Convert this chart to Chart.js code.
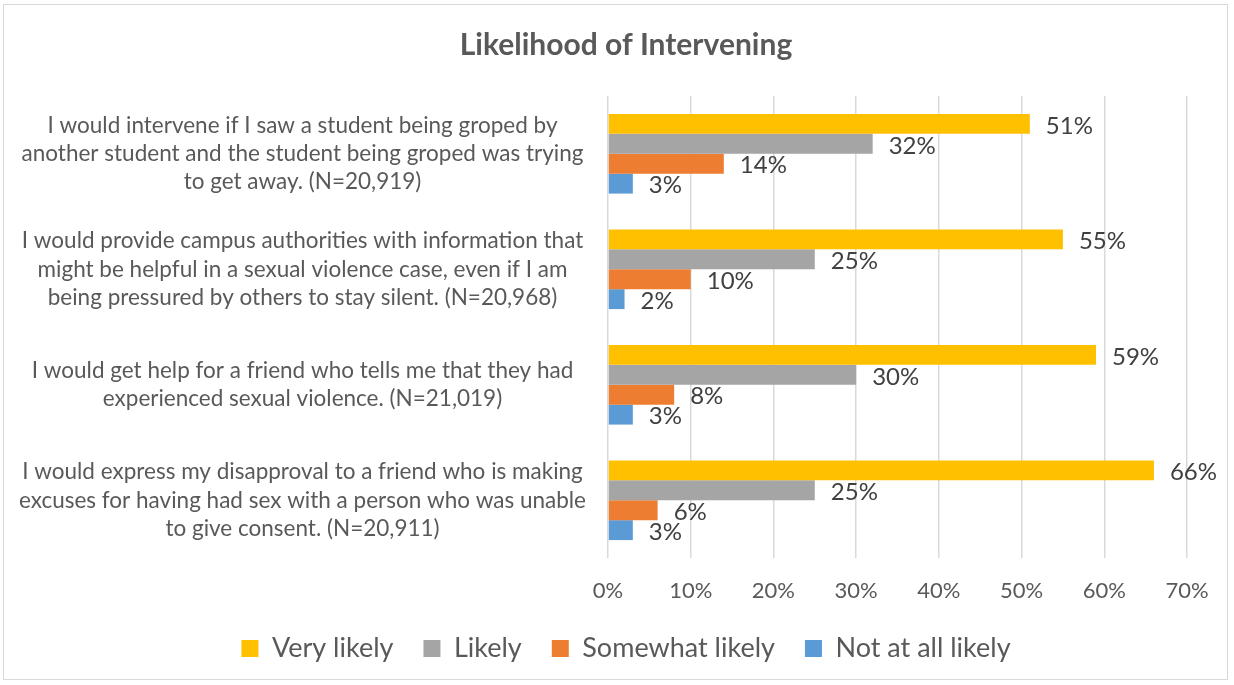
<!DOCTYPE html>
<html>
<head>
<meta charset="utf-8">
<script src="https://cdn.jsdelivr.net/npm/chart.js@4"></script>
<style>
  html, body { margin: 0; padding: 0; background: #fff; }
  #wrap { position: relative; width: 1234px; height: 685px; }
  #frame { position: absolute; left: 3px; top: 4px; width: 1225px; height: 676px; border: 1px solid #D9D9D9; box-sizing: border-box; pointer-events: none; }
  canvas { position: absolute; left: 0; top: 0; }
</style>
</head>
<body>
<div id="wrap">
  <canvas id="chart" width="1234" height="685"></canvas>
  <div id="frame"></div>
</div>
<script>
// Kategorien (mehrzeilig wie im Original)
const categories = [
  ['I would intervene if I saw a student being groped by', 'another student and the student being groped was trying', 'to get away. (N=20,919)'],
  ['I would provide campus authorities with information that', 'might be helpful in a sexual violence case, even if I am', 'being pressured by others to stay silent. (N=20,968)'],
  ['I would get help for a friend who tells me that they had', 'experienced sexual violence. (N=21,019)'],
  ['I would express my disapproval to a friend who is making', 'excuses for having had sex with a person who was unable', 'to give consent. (N=20,911)']
];

const seriesNames = ['Very likely', 'Likely', 'Somewhat likely', 'Not at all likely'];
const veryLikely = [51, 55, 59, 66];
const likely = [32, 25, 30, 25];
const somewhatLikely = [14, 10, 8, 6];
const notAtAllLikely = [3, 2, 3, 3];
const xTicks = [0, 10, 20, 30, 40, 50, 60, 70];

const colors = ['#FFC000', '#A5A5A5', '#ED7D31', '#5B9BD5'];
const FONT = "Lato, 'Open Sans', sans-serif";

// einfache Datenbeschriftung am Balkenende
const barLabels = {
  id: 'barLabels',
  afterDatasetsDraw(chart) {
    const ctx = chart.ctx;
    ctx.save();
    ctx.font = '24px ' + FONT;
    ctx.fillStyle = '#404040';
    ctx.textAlign = 'left';
    ctx.textBaseline = 'middle';
    chart.data.datasets.forEach((ds, i) => {
      const meta = chart.getDatasetMeta(i);
      meta.data.forEach((bar, j) => {
        ctx.fillText(ds.data[j] + '%', bar.x + 16, bar.y + 2);
      });
    });
    ctx.restore();
  }
};

const allSeries = [veryLikely, likely, somewhatLikely, notAtAllLikely];

new Chart(document.getElementById('chart'), {
  type: 'bar',
  data: {
    labels: categories,
    datasets: allSeries.map((vals, i) => ({
      label: seriesNames[i],
      data: vals,
      backgroundColor: colors[i],
      borderWidth: 0,
      barPercentage: 1.0,
      categoryPercentage: 0.69
    }))
  },
  options: {
    indexAxis: 'y',
    responsive: false,
    animation: false,
    layout: { padding: { top: 27, right: 0, bottom: 13, left: 18 } },
    plugins: {
      tooltip: { enabled: false },
      title: {
        display: true,
        text: 'Likelihood of Intervening',
        color: '#595959',
        font: { family: FONT, size: 30, weight: 'bold' },
        padding: { top: 0, bottom: 33 }
      },
      legend: {
        position: 'bottom',
        labels: {
          color: '#595959',
          font: { family: FONT, size: 27 },
          boxWidth: 17,
          boxHeight: 17,
          padding: 30
        }
      }
    },
    scales: {
      x: {
        min: 0,
        max: 70,
        afterBuildTicks: scale => { scale.ticks = xTicks.map(v => ({ value: v })); },
        afterFit: scale => { scale.paddingRight = 47; scale.height = 47; },
        ticks: {
          color: '#595959',
          font: { family: FONT, size: 22 },
          padding: 20,
          callback: v => v + '%'
        },
        grid: { color: '#D9D9D9', lineWidth: 1.5, drawTicks: false },
        border: { display: false }
      },
      y: {
        afterFit: scale => {
          scale.width = 590;
          scale.paddingTop = 0;
          scale.paddingBottom = 0;
        },
        ticks: {
          color: '#595959',
          font: { family: FONT, size: 22.5, lineHeight: 1.25 },
          crossAlign: 'center',
          padding: 22
        },
        grid: { display: false, drawTicks: false },
        border: { display: false }
      }
    }
  },
  plugins: [barLabels]
});
</script>
</body>
</html>
